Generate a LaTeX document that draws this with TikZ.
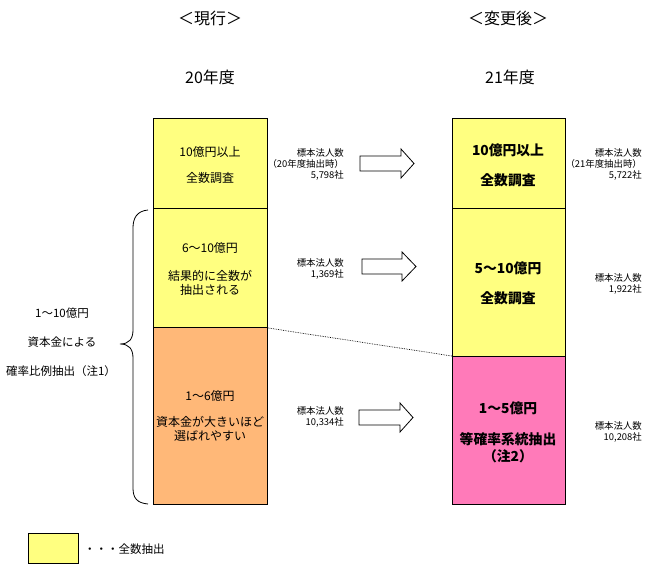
\documentclass[tikz,border=0pt]{standalone}
\usepackage{fontspec}
\setmainfont{Noto Sans CJK JP}
\definecolor{cyel}{RGB}{255,255,128}
\definecolor{corg}{RGB}{255,184,120}
\definecolor{cpnk}{RGB}{255,122,185}
\begin{document}
\begin{tikzpicture}[x=1pt,y=-1pt,
  blk/.style={draw, line width=1pt, anchor=north west, inner sep=0pt},
  ttl/.style={font=\fontsize{16}{18}\selectfont, inner sep=0pt},
  t/.style={font=\fontsize{12}{14}\selectfont, inner sep=0pt},
  tb/.style={font=\bfseries\fontsize{13.8}{16}\selectfont, inner sep=0pt},
  lab/.style={font=\fontsize{9.4}{11}\selectfont, anchor=east, inner sep=0pt},
  barrow/.style={draw, line width=0.8pt, fill=white}]
\useasboundingbox (0,0) rectangle (650,575);
% titles
\node[ttl] (h1) at (210,18) {＜現行＞};
\node[ttl] (h2) at (508,18) {＜変更後＞};
\node[ttl] (y1) at (210,77) {20年度};
\node[ttl] (y2) at (510,77) {21年度};
% left column
\node[blk, fill=cyel, minimum width=114pt, minimum height=90pt] (L1) at (153,118) {};
\node[blk, fill=cyel, minimum width=114pt, minimum height=119pt] (L2) at (153,208) {};
\node[blk, fill=corg, minimum width=114pt, minimum height=177pt] (L3) at (153,327) {};
% right column
\node[blk, fill=cyel, minimum width=113pt, minimum height=90pt] (R1) at (452,118) {};
\node[blk, fill=cyel, minimum width=113pt, minimum height=148pt] (R2) at (452,208) {};
\node[blk, fill=cpnk, minimum width=113pt, minimum height=148pt] (R3) at (452,356) {};
% dotted link
\draw[densely dotted, line width=0.7pt] (L2.south east) -- (R3.north west);
% left column texts
\node[t] (l1a) at (210,152) {10億円以上};
\node[t] (l1b) at (210,178) {全数調査};
\node[t] (l2a) at (210,248) {6～10億円};
\node[t] (l2b) at (210,276) {結果的に全数が};
\node[t] (l2c) at (210,290) {抽出される};
\node[t] (l3a) at (210,396) {1～6億円};
\node[t] (l3b) at (210,422) {資本金が大きいほど};
\node[t] (l3c) at (210,436) {選ばれやすい};
% right column texts
\node[tb] (r1a) at (508,150) {10億円以上};
\node[tb] (r1b) at (508,180) {全数調査};
\node[tb] (r2a) at (508,268) {5～10億円};
\node[tb] (r2b) at (508,298) {全数調査};
\node[tb] (r3a) at (508,408) {1～5億円};
\node[tb] (r3b) at (508,439) {等確率系統抽出};
\node[tb] (r3c) at (508,456) {（注2）};
% sample counts left
\node[lab] (s1a) at (344,153) {標本法人数};
\node[lab] (s1b) at (344,164) {（20年度抽出時）};
\node[lab] (s1c) at (344,175) {5,798社};
\node[lab] (s2a) at (344,263) {標本法人数};
\node[lab] (s2b) at (344,274) {1,369社};
\node[lab] (s3a) at (344,411) {標本法人数};
\node[lab] (s3b) at (344,422) {10,334社};
% sample counts right
\node[lab] (u1a) at (642,153) {標本法人数};
\node[lab] (u1b) at (642,164) {（21年度抽出時）};
\node[lab] (u1c) at (642,175) {5,722社};
\node[lab] (u2a) at (642,278) {標本法人数};
\node[lab] (u2b) at (642,289) {1,922社};
\node[lab] (u3a) at (642,426) {標本法人数};
\node[lab] (u3b) at (642,437) {10,208社};
% block arrows
\draw[barrow] (360,156) -- (401,156) -- (401,149) -- (414,163.5) -- (401,178) -- (401,171) -- (360,171) -- cycle;
\draw[barrow] (362,259) -- (402,259) -- (402,252) -- (416,266.5) -- (402,281) -- (402,274) -- (362,274) -- cycle;
\draw[barrow] (359,410) -- (400,410) -- (400,403) -- (413,417.5) -- (400,432) -- (400,425) -- (359,425) -- cycle;
% brace
\draw[line width=0.8pt] (148,210) .. controls (137,211) and (133,218) .. (133,228) -- (133,330)
  .. controls (133,339) and (129,344) .. (120,344)
  .. controls (129,344) and (133,349) .. (133,358) -- (133,488)
  .. controls (133,498) and (137,503) .. (148,504);
% brace label
\node[font=\fontsize{11.5}{13}\selectfont, inner sep=0pt] (b1) at (62,313) {1～10億円};
\node[font=\fontsize{11.5}{13}\selectfont, inner sep=0pt] (b2) at (62,342) {資本金による};
\node[font=\fontsize{11.5}{13}\selectfont, inner sep=0pt] (b3) at (61,371) {確率比例抽出（注1）};
% legend
\node[blk, fill=cyel, minimum width=50pt, minimum height=30pt] (leg) at (28,533) {};
\node[font=\fontsize{11.5}{13}\selectfont, inner sep=0pt, anchor=west] (legt) at (84,549) {・・・全数抽出};
\end{tikzpicture}
\end{document}
